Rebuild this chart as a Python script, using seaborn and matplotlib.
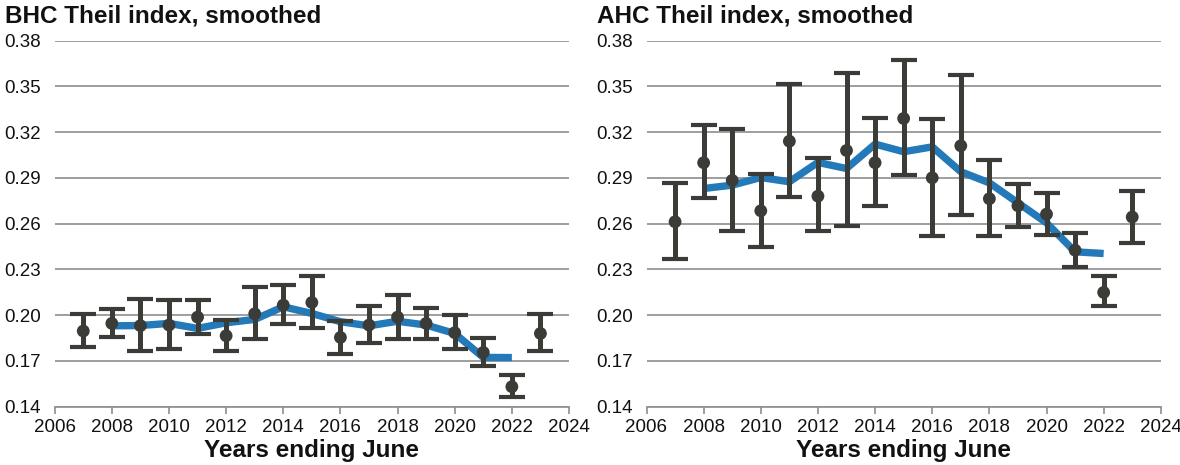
import numpy as np
import pandas as pd
import seaborn as sns
import matplotlib
matplotlib.use("Agg")
import matplotlib.pyplot as plt

years = [2007, 2008, 2009, 2010, 2011, 2012, 2013, 2014, 2015, 2016, 2017, 2018, 2019, 2020, 2021, 2022, 2023]

bhc_point = [0.1896, 0.1946, 0.1931, 0.1935, 0.1987, 0.1865, 0.2009, 0.2066, 0.2083, 0.1854, 0.1935, 0.1987, 0.1946, 0.1885, 0.1756, 0.1531, 0.1880]
bhc_upper = [0.2007, 0.2038, 0.2105, 0.2099, 0.2099, 0.1968, 0.2186, 0.2197, 0.2256, 0.1963, 0.2059, 0.2129, 0.2044, 0.2000, 0.1848, 0.1607, 0.2007]
bhc_lower = [0.1789, 0.1854, 0.1765, 0.1776, 0.1874, 0.1765, 0.1843, 0.1939, 0.1917, 0.1745, 0.1819, 0.1843, 0.1843, 0.1776, 0.1666, 0.1465, 0.1765]

smooth_years = [2008, 2009, 2010, 2011, 2012, 2013, 2014, 2015, 2016, 2017, 2018, 2019, 2020, 2021, 2022]
bhc_smooth = [0.1930, 0.1932, 0.1946, 0.1913, 0.1950, 0.1972, 0.2055, 0.2011, 0.1957, 0.1930, 0.1960, 0.1935, 0.1880, 0.1723, 0.1722]

ahc_point = [0.2612, 0.2999, 0.2883, 0.2684, 0.3140, 0.2780, 0.3079, 0.2999, 0.3289, 0.2900, 0.3110, 0.2763, 0.2717, 0.2662, 0.2426, 0.2149, 0.2643]
ahc_upper = [0.2863, 0.3245, 0.3219, 0.2924, 0.3518, 0.3027, 0.3590, 0.3293, 0.3671, 0.3287, 0.3573, 0.3014, 0.2861, 0.2802, 0.2536, 0.2256, 0.2813]
ahc_lower = [0.2365, 0.2765, 0.2553, 0.2444, 0.2774, 0.2549, 0.2581, 0.2717, 0.2918, 0.2522, 0.2656, 0.2518, 0.2579, 0.2525, 0.2317, 0.2059, 0.2474]
ahc_smooth = [0.2830, 0.2852, 0.2902, 0.2874, 0.3001, 0.2961, 0.3121, 0.3071, 0.3103, 0.2940, 0.2867, 0.2736, 0.2605, 0.2415, 0.2404]

titles = ["BHC Theil index, smoothed", "AHC Theil index, smoothed"]
xlabel = "Years ending June"
yticks = [0.14, 0.17, 0.20, 0.23, 0.26, 0.29, 0.32, 0.35, 0.38]
xticks = [2006, 2008, 2010, 2012, 2014, 2016, 2018, 2020, 2022, 2024]

sns.set_theme(style="white")
plt.rcParams['font.family'] = ['Liberation Sans', 'DejaVu Sans']

W, H = 1180, 465
fig = plt.figure(figsize=(W / 100, H / 100), dpi=100)

BAR = "#3b3b37"
BLUE = "#2479b8"
GRID = "#8e8e8e"
TXT = "#111111"

panels = [
    (54.7, bhc_point, bhc_upper, bhc_lower, bhc_smooth, titles[0], 5),
    (646.5, ahc_point, ahc_upper, ahc_lower, ahc_smooth, titles[1], 597),
]

for left_px, pt, up, lo, sm, title, tx in panels:
    ax = fig.add_axes([left_px / W, 1 - 406.7 / H, 514.3 / W, 366.2 / H])
    pt_a = np.array(pt)
    err = np.vstack([pt_a - np.array(lo), np.array(up) - pt_a])

    sdf = pd.DataFrame({"year": smooth_years, "value": sm})
    sns.lineplot(data=sdf, x="year", y="value", ax=ax, color=BLUE, linewidth=5.3,
                 zorder=2, solid_capstyle="butt")
    ax.errorbar(years, pt, yerr=err, fmt="none", ecolor=BAR, elinewidth=3.6,
                capsize=9.4, capthick=3.0, zorder=3)
    pdf = pd.DataFrame({"year": years, "value": pt})
    sns.scatterplot(data=pdf, x="year", y="value", ax=ax, color=BAR, s=85,
                    edgecolor="none", zorder=4)

    ax.set_xlim(2006, 2024)
    ax.set_ylim(0.14, 0.38)
    ax.set_yticks(yticks)
    ax.set_yticklabels([f"{v:.2f}" for v in yticks])
    ax.set_xticks(xticks)
    ax.set_xticklabels([str(v) for v in xticks])
    ax.grid(axis="y", color=GRID, linewidth=1.2)
    ax.set_axisbelow(True)
    for s in ["left", "right", "top"]:
        ax.spines[s].set_visible(False)
    ax.spines["bottom"].set_color(GRID)
    ax.spines["bottom"].set_linewidth(1.2)
    ax.tick_params(axis="y", length=0, pad=10, labelsize=13.5, labelcolor=TXT)
    ax.tick_params(axis="x", length=5, width=1.2, color=GRID, direction="out",
                   pad=4, labelsize=13.5, labelcolor=TXT, bottom=True)
    ax.set_ylabel("")
    ax.set_xlabel(xlabel, fontsize=17.5, fontweight="bold", labelpad=2, color=TXT)
    fig.text(tx / W, 1 - 22 / H, title, fontsize=17.5, fontweight="bold",
             ha="left", va="baseline", color=TXT)

fig.savefig("out.png", dpi=100)
